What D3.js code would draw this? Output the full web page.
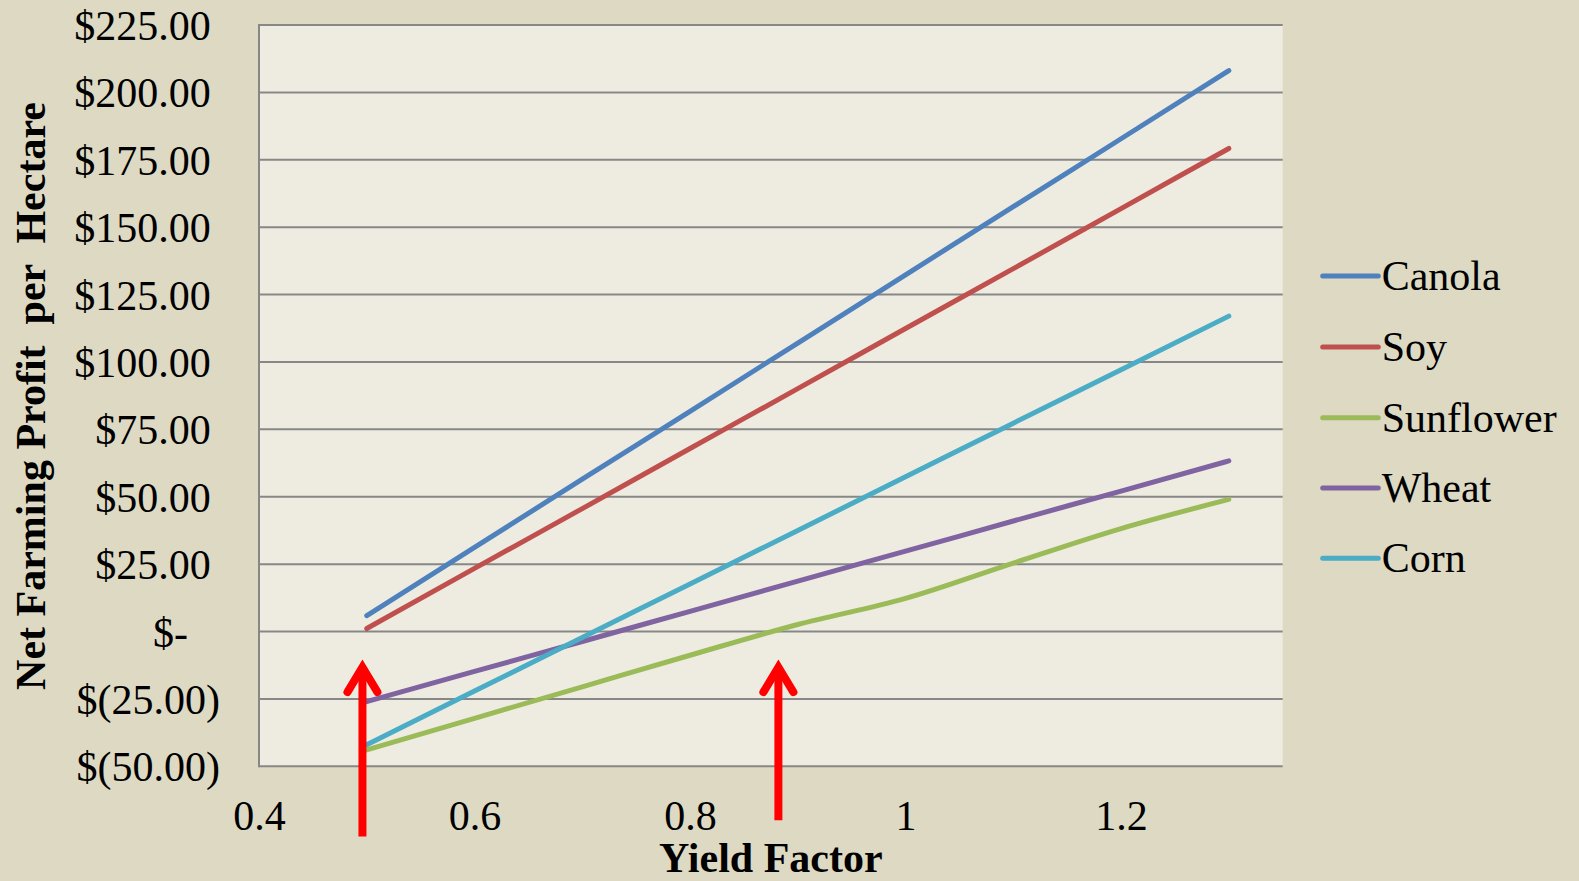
<!DOCTYPE html>
<html>
<head>
<meta charset="utf-8">
<script src="https://cdn.jsdelivr.net/npm/d3@7/dist/d3.min.js"></script>
<style>
  html, body { margin: 0; padding: 0; background: #DDD9C3; }
  svg { display: block; }
  text { font-family: "Liberation Serif", "Times New Roman", serif; fill: #000; }
</style>
</head>
<body>
<svg id="chart" width="1579" height="881"></svg>
<script>
// ---- data ----
const xValues = [0.5, 0.6, 0.7, 0.8, 0.9, 1.0, 1.1, 1.2, 1.3];
const seriesNames = ["Canola", "Soy", "Sunflower", "Wheat", "Corn"];
const canola    = [5.9, 31.2, 56.5, 81.7, 107.0, 132.3, 157.6, 182.8, 208.1];
const soy       = [1.1, 23.4, 45.6, 67.9, 90.1, 112.4, 134.6, 156.9, 179.2];
const sunflower = [-43.9, -32.2, -20.5, -8.8, 2.6, 12.3, 25.4, 38.2, 49.0];
const wheat     = [-26.0, -14.8, -3.7, 7.5, 18.7, 29.8, 41.0, 52.1, 63.3];
const corn      = [-42.0, -22.1, -2.2, 17.6, 37.5, 57.4, 77.3, 97.1, 117.0];
const seriesColors = ["#4F81BD", "#C0504D", "#9BBB59", "#8064A2", "#4BACC6"];
const xTicks = [0.4, 0.6, 0.8, 1, 1.2];
const xTickLabels = ["0.4", "0.6", "0.8", "1", "1.2"];
const yTicks = [-50, -25, 0, 25, 50, 75, 100, 125, 150, 175, 200, 225];
const yTickLabels = ["$(50.00)", "$(25.00)", "$-", "$25.00", "$50.00", "$75.00", "$100.00",
                     "$125.00", "$150.00", "$175.00", "$200.00", "$225.00"];
// annotation arrows (data units)
const arrowX = [0.496, 0.882];
const arrowTop = [-11, -11];
const arrowBottom = [-76, -70];

const seriesValues = [canola, soy, sunflower, wheat, corn];

// ---- layout ----
const svg = d3.select("#chart");
const pLeft = 259, pRight = 1282.7, pTop = 25, pBottom = 766.3;
const x = d3.scaleLinear().domain([0.4, 1.35]).range([pLeft, pRight]);
const y = d3.scaleLinear().domain([-50, 225]).range([pBottom, pTop]);
const FS = 42;

svg.append("rect").attr("x", 0).attr("y", 0).attr("width", 1579).attr("height", 881).attr("fill", "#DDD9C3");
svg.append("rect").attr("x", pLeft).attr("y", pTop).attr("width", pRight - pLeft).attr("height", pBottom - pTop)
  .attr("fill", "#EEECE1");

// gridlines
svg.append("g").selectAll("line").data(yTicks).join("line")
  .attr("x1", pLeft).attr("x2", pRight)
  .attr("y1", d => y(d)).attr("y2", d => y(d))
  .attr("stroke", "#878787").attr("stroke-width", 2);

// y axis line
svg.append("line").attr("x1", pLeft).attr("x2", pLeft).attr("y1", pTop - 1).attr("y2", pBottom + 1)
  .attr("stroke", "#878787").attr("stroke-width", 2);

// x axis labels
const xAxis = d3.axisBottom(x).tickValues(xTicks).tickSize(0).tickPadding(34)
  .tickFormat((d, i) => xTickLabels[i]);
const gx = svg.append("g").attr("transform", `translate(0,${pBottom})`).call(xAxis);
gx.select(".domain").remove();
gx.selectAll("text").attr("font-size", FS).attr("font-family", "Liberation Serif").attr("fill", "#000");

// y axis labels
const yAxis = d3.axisLeft(y).tickValues(yTicks).tickSize(0).tickPadding(0)
  .tickFormat((d, i) => yTickLabels[i]);
const gy = svg.append("g").attr("transform", `translate(${pLeft},0)`).call(yAxis);
gy.select(".domain").remove();
gy.selectAll("text").attr("font-size", FS).attr("font-family", "Liberation Serif").attr("fill", "#000")
  .attr("dy", "14.5px")
  .attr("x", d => d < 0 ? -39 : (d === 0 ? -71 : -48.3));

// series lines
const line = d3.line().x((d, i) => x(xValues[i])).y(d => y(d)).curve(d3.curveMonotoneX);
svg.append("g").selectAll("path").data(seriesValues).join("path")
  .attr("d", d => line(d))
  .attr("fill", "none")
  .attr("stroke", (d, i) => seriesColors[i])
  .attr("stroke-width", 5)
  .attr("stroke-linecap", "round")
  .attr("stroke-linejoin", "round");

// arrows
const ga = svg.append("g");
arrowX.forEach((ax, i) => {
  const px = x(ax), pt = y(arrowTop[i]) + 6, pb = y(arrowBottom[i]);
  ga.append("line").attr("x1", px).attr("x2", px).attr("y1", pb).attr("y2", pt + 2)
    .attr("stroke", "#FF0000").attr("stroke-width", 8);
  ga.append("path").attr("d", `M${px - 15},${pt + 25} L${px},${pt} L${px + 15},${pt + 25}`)
    .attr("fill", "none").attr("stroke", "#FF0000").attr("stroke-width", 8)
    .attr("stroke-linecap", "round").attr("stroke-linejoin", "miter").attr("stroke-miterlimit", 10);
});

// legend
const legend = svg.append("g");
const legendY = [276, 347, 417.7, 488, 558.3];
seriesNames.forEach((name, i) => {
  legend.append("line").attr("x1", 1322.7).attr("x2", 1378.3).attr("y1", legendY[i]).attr("y2", legendY[i])
    .attr("stroke", seriesColors[i]).attr("stroke-width", 5).attr("stroke-linecap", "round");
  legend.append("text").attr("x", 1381.7).attr("y", legendY[i] + 14).attr("font-size", FS).text(name);
});

// axis titles
svg.append("text").attr("x", (pLeft + pRight) / 2).attr("y", 871.7).attr("text-anchor", "middle")
  .attr("font-size", FS).attr("font-weight", "bold").text("Yield Factor");
svg.append("text").attr("transform", "translate(45,396) rotate(-90)").attr("text-anchor", "middle")
  .attr("font-size", FS).attr("font-weight", "bold")
  .style("white-space", "pre")
  .text("Net Farming Profit  per  Hectare");
</script>
</body>
</html>
